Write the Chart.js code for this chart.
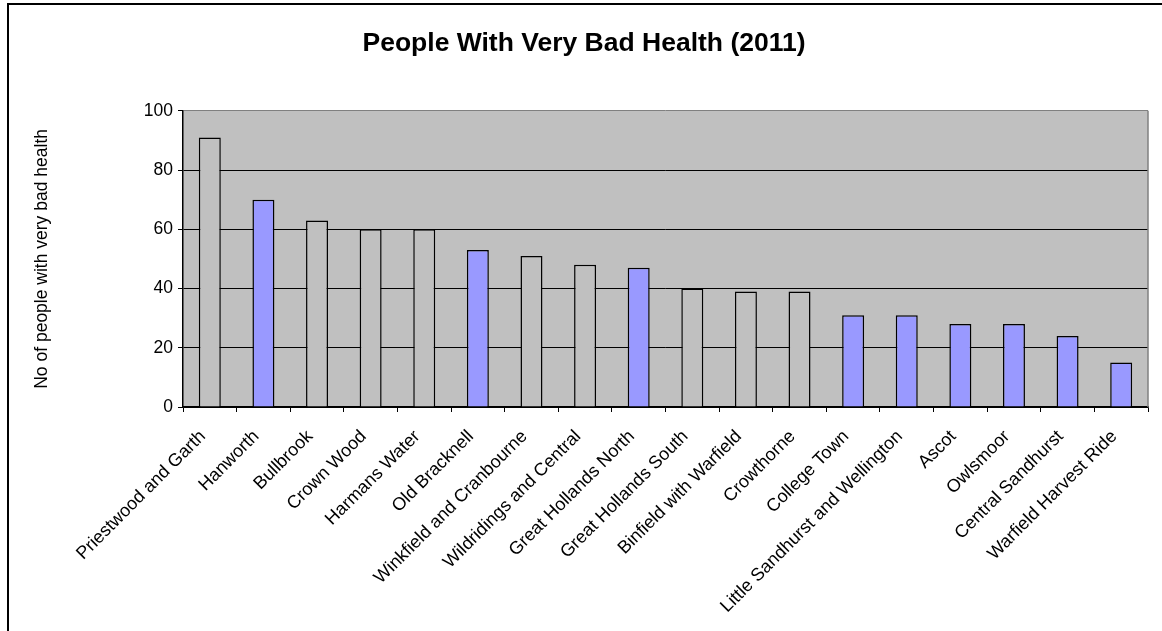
<!DOCTYPE html>
<html>
<head>
<meta charset="utf-8">
<script src="https://cdn.jsdelivr.net/npm/chart.js@4/dist/chart.umd.min.js"></script>
<style>
  html, body { margin: 0; padding: 0; background: #ffffff; }
  #wrap { width: 1162px; height: 631px; position: relative; }
</style>
</head>
<body>
<div id="wrap"><canvas id="c" width="1162" height="631"></canvas></div>
<script>
const chartTitle = 'People With Very Bad Health (2011)';
const yAxisTitle = 'No of people with very bad health';
const categories = [
  'Priestwood and Garth', 'Hanworth', 'Bullbrook', 'Crown Wood', 'Harmans Water',
  'Old Bracknell', 'Winkfield and Cranbourne', 'Wildridings and Central',
  'Great Hollands North', 'Great Hollands South', 'Binfield with Warfield',
  'Crowthorne', 'College Town', 'Little Sandhurst and Wellington', 'Ascot',
  'Owlsmoor', 'Central Sandhurst', 'Warfield Harvest Ride'
];
const values = [91, 70, 63, 60, 60, 53, 51, 48, 47, 40, 39, 39, 31, 31, 28, 28, 24, 15];
const highlighted = [
  'Hanworth', 'Old Bracknell', 'Great Hollands North', 'College Town',
  'Little Sandhurst and Wellington', 'Ascot', 'Owlsmoor', 'Central Sandhurst',
  'Warfield Harvest Ride'
];
const yTicks = [0, 20, 40, 60, 80, 100];

const FONT = "'Liberation Sans', Arial, sans-serif";
const PLOT_BG = '#c0c0c0';
const BLUE = '#9999ff';

const bgPlugin = {
  id: 'bg',
  beforeDraw(chart) {
    const ctx = chart.ctx;
    const a = chart.chartArea;
    ctx.save();
    ctx.fillStyle = '#ffffff';
    ctx.fillRect(0, 0, chart.width, chart.height);
    ctx.fillStyle = '#000000';
    ctx.fillRect(7, 3, chart.width, 2);
    ctx.fillRect(7, 3, 2, chart.height);
    ctx.fillStyle = PLOT_BG;
    ctx.fillRect(a.left, a.top, a.right - a.left, a.bottom - a.top);
    ctx.restore();
  },
  afterDatasetsDraw(chart) {
    const ctx = chart.ctx;
    const a = chart.chartArea;
    ctx.save();
    ctx.strokeStyle = '#808080';
    ctx.lineWidth = 1.5;
    ctx.beginPath();
    ctx.moveTo(a.right, a.top);
    ctx.lineTo(a.right, a.bottom);
    ctx.stroke();
    ctx.restore();
  }
};

new Chart(document.getElementById('c'), {
  type: 'bar',
  data: {
    labels: categories,
    datasets: [{
      data: values,
      backgroundColor: categories.map(c => highlighted.includes(c) ? BLUE : PLOT_BG),
      borderColor: '#000000',
      borderWidth: 1.5,
      categoryPercentage: 1,
      barPercentage: 0.41
    }]
  },
  options: {
    responsive: false,
    animation: false,
    devicePixelRatio: 1,
    layout: { padding: { left: 20, right: 14, top: 0, bottom: 0 } },
    plugins: {
      legend: { display: false },
      tooltip: { enabled: false },
      title: {
        display: true,
        text: chartTitle,
        color: '#000000',
        font: { family: FONT, size: 26.5, weight: 'bold', lineHeight: 1.2 },
        padding: { top: 28, bottom: 51 }
      }
    },
    scales: {
      x: {
        afterFit(scale) { scale.height = 224; },
        grid: {
          offset: true,
          drawOnChartArea: false,
          drawTicks: true,
          tickLength: 5,
          color: '#000000',
          tickColor: '#000000',
          lineWidth: 1
        },
        border: { display: true, color: '#000000', width: 1.5 },
        ticks: {
          autoSkip: false,
          minRotation: 45,
          maxRotation: 45,
          padding: 14,
          labelOffset: -7,
          color: '#000000',
          font: { family: FONT, size: 18 }
        }
      },
      y: {
        min: 0,
        max: 100,
        afterFit(scale) { scale.width = 163; },
        afterBuildTicks(scale) { scale.ticks = yTicks.map(v => ({ value: v })); },
        grid: {
          color: ctx => (ctx.tick && ctx.tick.value === 100) ? '#808080' : '#000000',
          tickColor: '#000000',
          tickLength: 5,
          lineWidth: 1
        },
        border: { display: true, color: '#000000', width: 1.5 },
        ticks: {
          padding: 5,
          color: '#000000',
          font: { family: FONT, size: 17.5 }
        },
        title: {
          display: true,
          text: yAxisTitle,
          color: '#000000',
          font: { family: FONT, size: 17.5 },
          padding: { top: 12, bottom: 0 }
        }
      }
    }
  },
  plugins: [bgPlugin]
});
</script>
</body>
</html>
